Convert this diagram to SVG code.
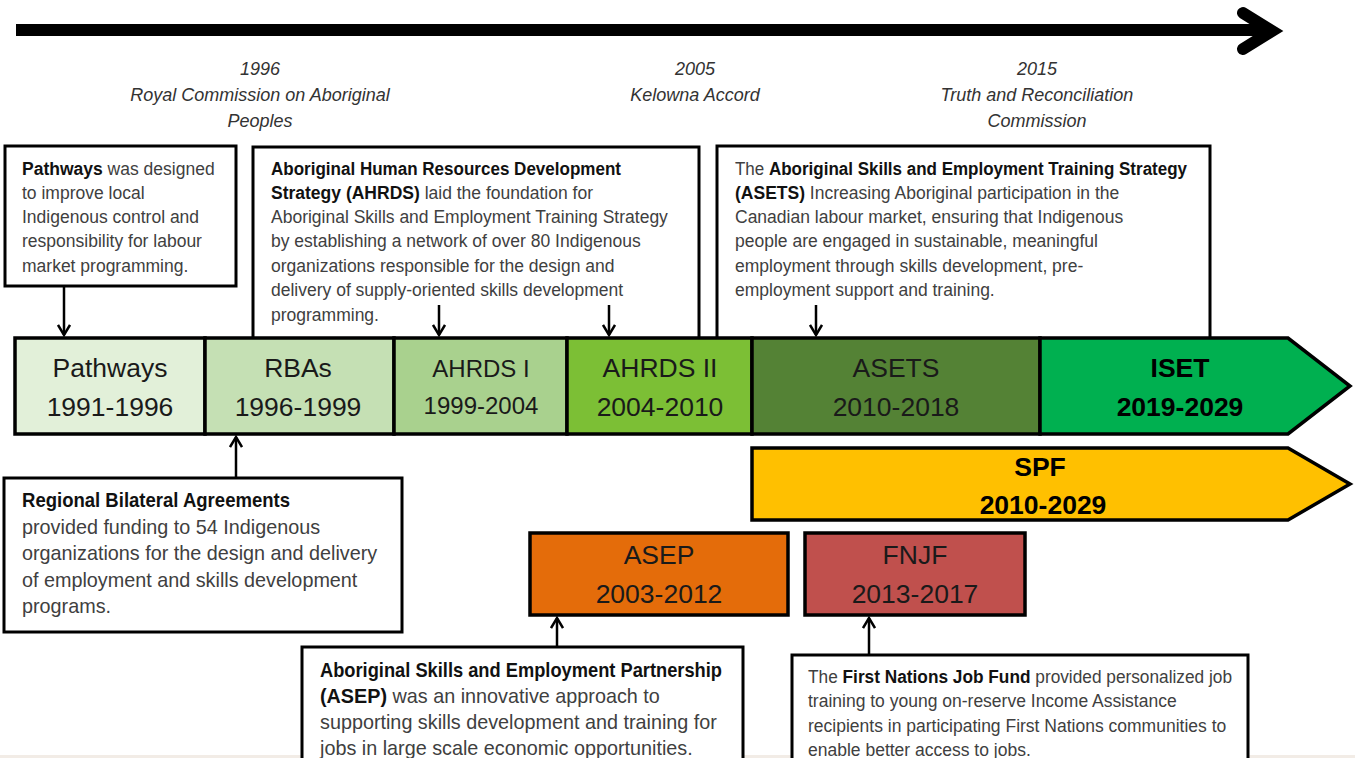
<svg xmlns="http://www.w3.org/2000/svg" width="1355" height="758" viewBox="0 0 1355 758">
  <style>
    .note { fill: #fff; stroke: #000; stroke-width: 3; }
    .body { font-family: "Liberation Sans", Arial, sans-serif; font-size: 17.5px; fill: #404040; }
    .body.lg { font-size: 19.8px; }
    .body .b { font-weight: bold; fill: #111; }
    .event { font-family: "Liberation Sans", Arial, sans-serif; font-size: 18px; font-style: italic; fill: #333; text-anchor: middle; }
    .seg { stroke: #000; stroke-width: 3.5; }
    .lab { font-family: "Liberation Sans", Arial, sans-serif; font-size: 26.5px; fill: #1a1a1a; text-anchor: middle; }
    .lab.sm { font-size: 24px; }
    .lab.bold { font-weight: bold; fill: #000; }
    .conn { stroke: #000; stroke-width: 2.5; fill: none; }
  </style>
  <defs>
    <marker id="v" viewBox="0 0 14 14" refX="12" refY="7" markerWidth="14" markerHeight="14" markerUnits="userSpaceOnUse" orient="auto">
      <path d="M2,1 L12,7 L2,13" fill="none" stroke="#000" stroke-width="2.5"/>
    </marker>
  </defs>

  <rect width="1355" height="758" fill="#fff"/>
  <rect x="0" y="755" width="1355" height="3" fill="#f2ece6"/>

  <!-- main time axis -->
  <g id="axis">
    <line x1="16" y1="30" x2="1268" y2="30" stroke="#000" stroke-width="12"/>
    <path d="M1243,13 L1272,31 L1243,49" fill="none" stroke="#000" stroke-width="12" stroke-linecap="round" stroke-linejoin="miter"/>
  </g>

  <!-- events above the axis -->
  <g id="event-1996">
    <text class="event" x="260" y="75">1996</text>
    <text class="event" x="260" y="101">Royal Commission on Aboriginal</text>
    <text class="event" x="260" y="127">Peoples</text>
  </g>
  <g id="event-2005">
    <text class="event" x="695" y="75">2005</text>
    <text class="event" x="695" y="101">Kelowna Accord</text>
  </g>
  <g id="event-2015">
    <text class="event" x="1037" y="75">2015</text>
    <text class="event" x="1037" y="101">Truth and Reconciliation</text>
    <text class="event" x="1037" y="127">Commission</text>
  </g>

  <!-- description notes -->
  <g id="note-pathways">
    <rect class="note" x="5" y="146" width="231" height="140"/>
    <text class="body" x="22" y="175"><tspan class="b">Pathways</tspan> was designed</text>
    <text class="body" x="22" y="199">to improve local</text>
    <text class="body" x="22" y="223">Indigenous control and</text>
    <text class="body" x="22" y="247">responsibility for labour</text>
    <text class="body" x="22" y="272">market programming.</text>
  </g>
  <g id="note-ahrds">
    <path class="note" d="M253,338 L253,147 L699,147 L699,338"/>
    <text class="body" x="271" y="175" textLength="350" lengthAdjust="spacingAndGlyphs"><tspan class="b">Aboriginal Human Resources Development</tspan></text>
    <text class="body" x="271" y="199"><tspan class="b">Strategy (AHRDS)</tspan> laid the foundation for</text>
    <text class="body" x="271" y="223">Aboriginal Skills and Employment Training Strategy</text>
    <text class="body" x="271" y="247">by establishing a network of over 80 Indigenous</text>
    <text class="body" x="271" y="272">organizations responsible for the design and</text>
    <text class="body" x="271" y="296">delivery of supply-oriented skills development</text>
    <text class="body" x="271" y="321">programming.</text>
  </g>
  <g id="note-asets">
    <path class="note" d="M717,338 L717,146 L1210,146 L1210,338"/>
    <text class="body" x="735" y="175" textLength="452" lengthAdjust="spacingAndGlyphs">The <tspan class="b">Aboriginal Skills and Employment Training Strategy</tspan></text>
    <text class="body" x="735" y="199"><tspan class="b">(ASETS)</tspan> Increasing Aboriginal participation in the</text>
    <text class="body" x="735" y="223">Canadian labour market, ensuring that Indigenous</text>
    <text class="body" x="735" y="247">people are engaged in sustainable, meaningful</text>
    <text class="body" x="735" y="272">employment through skills development, pre-</text>
    <text class="body" x="735" y="296">employment support and training.</text>
  </g>
  <g id="note-rba">
    <rect class="note" x="4" y="478" width="398" height="154"/>
    <text class="body lg" x="22" y="507" textLength="268" lengthAdjust="spacingAndGlyphs"><tspan class="b">Regional Bilateral Agreements</tspan></text>
    <text class="body lg" x="22" y="534">provided funding to 54 Indigenous</text>
    <text class="body lg" x="22" y="560">organizations for the design and delivery</text>
    <text class="body lg" x="22" y="587">of employment and skills development</text>
    <text class="body lg" x="22" y="613">programs.</text>
  </g>
  <g id="note-asep">
    <path class="note" d="M302,760 L302,647 L743,647 L743,760"/>
    <text class="body lg" x="320" y="677" textLength="402" lengthAdjust="spacingAndGlyphs"><tspan class="b">Aboriginal Skills and Employment Partnership</tspan></text>
    <text class="body lg" x="320" y="703"><tspan class="b">(ASEP)</tspan> was an innovative approach to</text>
    <text class="body lg" x="320" y="729">supporting skills development and training for</text>
    <text class="body lg" x="320" y="755">jobs in large scale economic opportunities.</text>
  </g>
  <g id="note-fnjf">
    <path class="note" d="M792,760 L792,655 L1248,655 L1248,760"/>
    <text class="body" x="808" y="683" textLength="424" lengthAdjust="spacingAndGlyphs">The <tspan class="b">First Nations Job Fund</tspan> provided personalized job</text>
    <text class="body" x="808" y="707">training to young on-reserve Income Assistance</text>
    <text class="body" x="808" y="732">recipients in participating First Nations communities to</text>
    <text class="body" x="808" y="756">enable better access to jobs.</text>
  </g>

  <!-- programme timeline -->
  <g id="seg-pathways">
    <rect class="seg" x="15" y="338" width="190" height="96" fill="#e2f0d9"/>
    <text class="lab" x="110" y="377">Pathways</text>
    <text class="lab" x="110" y="416">1991-1996</text>
  </g>
  <g id="seg-rbas">
    <rect class="seg" x="205" y="338" width="189" height="96" fill="#c5e0b4"/>
    <text class="lab" x="298" y="377">RBAs</text>
    <text class="lab" x="298" y="416">1996-1999</text>
  </g>
  <g id="seg-ahrds1">
    <rect class="seg" x="394" y="338" width="173" height="96" fill="#a9d18e"/>
    <text class="lab sm" x="481" y="377">AHRDS I</text>
    <text class="lab sm" x="481" y="414">1999-2004</text>
  </g>
  <g id="seg-ahrds2">
    <rect class="seg" x="567" y="338" width="185" height="96" fill="#7cbf35"/>
    <text class="lab" x="660" y="377">AHRDS II</text>
    <text class="lab" x="660" y="416">2004-2010</text>
  </g>
  <g id="seg-asets">
    <rect class="seg" x="752" y="338" width="288" height="96" fill="#548235"/>
    <text class="lab" x="896" y="377">ASETS</text>
    <text class="lab" x="896" y="416">2010-2018</text>
  </g>
  <g id="seg-iset">
    <path class="seg" d="M1040,338 L1288,338 L1350,386 L1288,434 L1040,434 Z" fill="#00b050"/>
    <text class="lab bold" x="1180" y="377">ISET</text>
    <text class="lab bold" x="1180" y="416">2019-2029</text>
  </g>
  <g id="seg-spf">
    <path class="seg" d="M752,448 L1288,448 L1350,484 L1288,520 L752,520 Z" fill="#ffc000"/>
    <text class="lab bold" x="1040" y="476">SPF</text>
    <text class="lab bold" x="1043" y="514">2010-2029</text>
  </g>
  <g id="seg-asep">
    <rect class="seg" x="530" y="533" width="258" height="82" fill="#e46c0a"/>
    <text class="lab" x="659" y="564">ASEP</text>
    <text class="lab" x="659" y="603">2003-2012</text>
  </g>
  <g id="seg-fnjf">
    <rect class="seg" x="805" y="533" width="220" height="82" fill="#c0504d"/>
    <text class="lab" x="915" y="564">FNJF</text>
    <text class="lab" x="915" y="603">2013-2017</text>
  </g>

  <!-- connectors from notes to the timeline -->
  <g id="connectors">
    <line class="conn" x1="64" y1="287" x2="64" y2="335" marker-end="url(#v)"/>
    <line class="conn" x1="439" y1="305" x2="439" y2="335" marker-end="url(#v)"/>
    <line class="conn" x1="609" y1="305" x2="609" y2="335" marker-end="url(#v)"/>
    <line class="conn" x1="816" y1="305" x2="816" y2="335" marker-end="url(#v)"/>
    <line class="conn" x1="236" y1="477" x2="236" y2="437" marker-end="url(#v)"/>
    <line class="conn" x1="557" y1="646" x2="557" y2="618" marker-end="url(#v)"/>
    <line class="conn" x1="869" y1="654" x2="869" y2="618" marker-end="url(#v)"/>
  </g>
</svg>
